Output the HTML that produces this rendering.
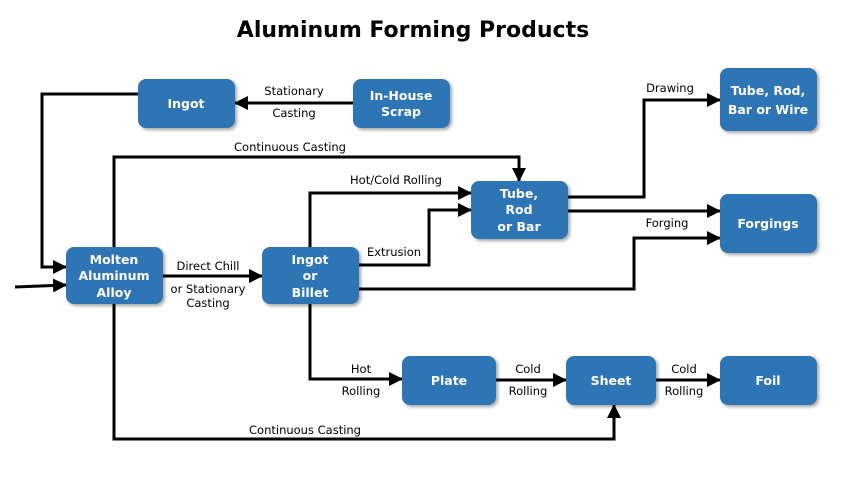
<!DOCTYPE html>
<html><head><style>body{margin:0;background:#fff}</style></head><body>
<svg width="843" height="480" xmlns="http://www.w3.org/2000/svg" font-family="DejaVu Sans, Liberation Sans, sans-serif">
<defs>
<marker id="b" markerWidth="14" markerHeight="14" refX="13" refY="7" orient="auto" markerUnits="userSpaceOnUse">
<path d="M0,0 L14,7 L0,14 z" fill="#000"/></marker>
<filter id="s" x="-10%" y="-10%" width="130%" height="130%"><feDropShadow dx="2" dy="2" stdDeviation="1.5" flood-color="#000" flood-opacity="0.35"/></filter>
</defs>
<text x="413" y="37" text-anchor="middle" font-size="22" font-weight="bold">Aluminum Forming Products</text>
<g stroke="#000" stroke-width="3" fill="none" marker-end="url(#b)">
<polyline points="138,94 42,94 42,267 66,267"/>
<line x1="15" y1="287" x2="66" y2="285"/>
<line x1="353" y1="103" x2="235" y2="103"/>
<polyline points="114,247 114,157 519,157 519,181"/>
<polyline points="310,247 310,193 471,193"/>
<polyline points="359,265 429,265 429,210 471,210"/>
<line x1="163" y1="276" x2="262" y2="276"/>
<polyline points="359,289 634,289 634,238 720,238"/>
<polyline points="568,197 644,197 644,100 720,100"/>
<line x1="568" y1="211" x2="720" y2="211"/>
<polyline points="310,304 310,379 402,379"/>
<line x1="496" y1="380" x2="566" y2="380"/>
<line x1="656" y1="380" x2="720" y2="380"/>
<polyline points="114,304 114,439 614,439 614,405"/>
</g>
<g fill="#2e74b5" filter="url(#s)">
<rect x="138" y="79" width="97" height="49" rx="8"/>
<rect x="353" y="79" width="97" height="49" rx="8"/>
<rect x="66" y="247" width="97" height="57" rx="8"/>
<rect x="262" y="247" width="97" height="57" rx="8"/>
<rect x="471" y="181" width="97" height="58" rx="8"/>
<rect x="720" y="68" width="97" height="63" rx="8"/>
<rect x="720" y="194" width="97" height="59" rx="8"/>
<rect x="402" y="356" width="94" height="49" rx="8"/>
<rect x="566" y="356" width="90" height="49" rx="8"/>
<rect x="720" y="356" width="97" height="49" rx="8"/>
</g>
<g fill="#fff" font-size="12.5" font-weight="bold" text-anchor="middle">
<text x="186" y="108">Ingot</text>
<text x="401" y="100">In-House</text><text x="401" y="116">Scrap</text>
<text x="114" y="264">Molten</text><text x="114" y="280">Aluminum</text><text x="114" y="297">Alloy</text>
<text x="310" y="264">Ingot</text><text x="310" y="280">or</text><text x="310" y="297">Billet</text>
<text x="519" y="198">Tube,</text><text x="519" y="214">Rod</text><text x="519" y="231">or Bar</text>
<text x="768" y="95">Tube, Rod,</text><text x="768" y="114">Bar or Wire</text>
<text x="768" y="228">Forgings</text>
<text x="449" y="385">Plate</text>
<text x="611" y="385">Sheet</text>
<text x="768" y="385">Foil</text>
</g>
<g font-size="11.5" text-anchor="middle" fill="#000">
<text x="294" y="95">Stationary</text><text x="294" y="117">Casting</text>
<text x="290" y="151">Continuous Casting</text>
<text x="396" y="184">Hot/Cold Rolling</text>
<text x="394" y="256">Extrusion</text>
<text x="208" y="270">Direct Chill</text>
<text x="208" y="293">or Stationary</text><text x="208" y="307">Casting</text>
<text x="670" y="92">Drawing</text>
<text x="667" y="227">Forging</text>
<text x="361" y="373">Hot</text><text x="361" y="395">Rolling</text>
<text x="528" y="373">Cold</text><text x="528" y="395">Rolling</text>
<text x="684" y="373">Cold</text><text x="684" y="395">Rolling</text>
<text x="305" y="434">Continuous Casting</text>
</g>
</svg>
</body></html>
